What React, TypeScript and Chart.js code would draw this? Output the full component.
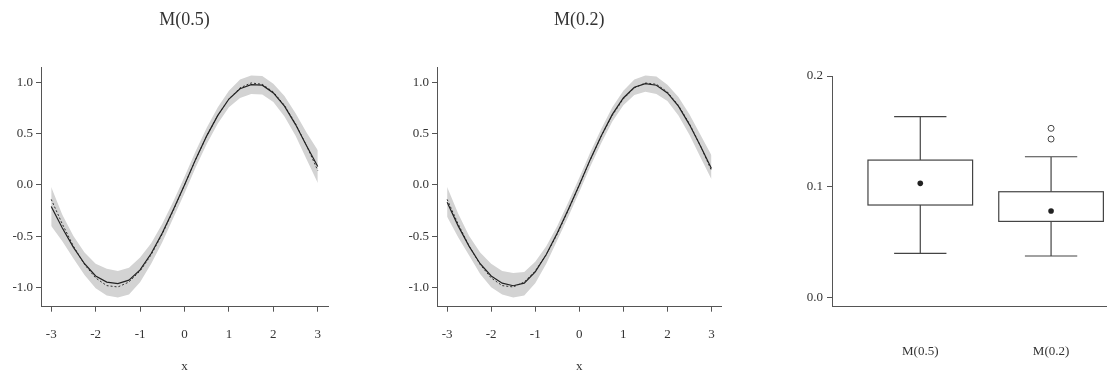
import React, { useEffect, useRef } from "react";
import { Chart, registerables } from "chart.js";

Chart.register(...registerables);

// ---------- data ----------
const xs = [-3, -2.75, -2.5, -2.25, -2, -1.75, -1.5, -1.25, -1, -0.75, -0.5, -0.25, 0, 0.25, 0.5, 0.75, 1, 1.25, 1.5, 1.75, 2, 2.25, 2.5, 2.75, 3];

// dashed reference curve (true function)
const trueCurve = [-0.141, -0.382, -0.598, -0.778, -0.909, -0.984, -0.997, -0.949, -0.841, -0.682, -0.479, -0.247, 0, 0.247, 0.479, 0.682, 0.841, 0.949, 0.997, 0.984, 0.909, 0.778, 0.598, 0.382, 0.141];

// M(0.5)
const fit05 = [-0.21, -0.42, -0.61, -0.77, -0.89, -0.95, -0.965, -0.93, -0.83, -0.67, -0.47, -0.24, 0.0, 0.25, 0.48, 0.68, 0.84, 0.94, 0.98, 0.975, 0.9, 0.77, 0.59, 0.38, 0.18];
const upper05 = [-0.02, -0.29, -0.5, -0.66, -0.77, -0.82, -0.84, -0.81, -0.71, -0.57, -0.38, -0.16, 0.08, 0.33, 0.56, 0.76, 0.92, 1.03, 1.07, 1.065, 0.99, 0.87, 0.7, 0.51, 0.34];
const lower05 = [-0.4, -0.55, -0.72, -0.88, -1.01, -1.08, -1.1, -1.07, -0.95, -0.77, -0.56, -0.32, -0.08, 0.17, 0.4, 0.6, 0.76, 0.85, 0.89, 0.885, 0.81, 0.67, 0.48, 0.25, 0.02];

// M(0.2)
const fit02 = [-0.17, -0.4, -0.6, -0.77, -0.89, -0.96, -0.985, -0.96, -0.85, -0.68, -0.47, -0.24, 0.0, 0.25, 0.48, 0.69, 0.85, 0.955, 0.99, 0.975, 0.9, 0.77, 0.59, 0.38, 0.16];
const upper02 = [-0.02, -0.28, -0.5, -0.66, -0.77, -0.84, -0.86, -0.85, -0.75, -0.6, -0.4, -0.17, 0.07, 0.32, 0.55, 0.76, 0.92, 1.03, 1.07, 1.06, 0.98, 0.86, 0.69, 0.49, 0.29];
const lower02 = [-0.31, -0.51, -0.69, -0.87, -1.0, -1.07, -1.1, -1.08, -0.96, -0.77, -0.54, -0.31, -0.07, 0.18, 0.41, 0.62, 0.78, 0.88, 0.91, 0.89, 0.82, 0.68, 0.49, 0.27, 0.055];

const xTicks = [-3, -2, -1, 0, 1, 2, 3];
const yTicks = [-1, -0.5, 0, 0.5, 1];

// box plot
const boxCategories = ["M(0.5)", "M(0.2)"];
const boxWhiskerLow = [0.0397, 0.0373];
const boxQ1 = [0.0834, 0.0686];
const boxQ3 = [0.124, 0.0954];
const boxWhiskerHigh = [0.1632, 0.127];
const boxMeans = [0.103, 0.078];
const boxOutliers = [[], [0.1527, 0.143]];
const boxYTicks = [0, 0.1, 0.2];

// ---------- styles ----------
const FONT = "'Liberation Serif', 'DejaVu Serif', serif";
const AXIS = "#555";
const TEXT = "#333";
const BOX_HALF = 0.4;
const CAP_HALF = 0.2;

function lineConfig(title: string, fit: number[], upper: number[], lower: number[], yWidth: number, padRight: number): any {
  const pts = (arr: number[]) => xs.map((x, i) => ({ x, y: arr[i] }));
  return {
    type: "line",
    data: {
      datasets: [
        { data: pts(upper), borderWidth: 0, pointRadius: 0, fill: "+1", backgroundColor: "#d3d3d3", borderColor: "rgba(0,0,0,0)", order: 3 },
        { data: pts(lower), borderWidth: 0, pointRadius: 0, fill: false, borderColor: "rgba(0,0,0,0)", order: 4 },
        { data: pts(trueCurve), borderColor: "#333", borderWidth: 1, borderDash: [2, 2], pointRadius: 0, fill: false, order: 1 },
        { data: pts(fit), borderColor: "#222", borderWidth: 1.2, pointRadius: 0, fill: false, order: 0 },
      ],
    },
    options: {
      animation: false,
      responsive: false,
      layout: { padding: { left: 0, right: padRight, top: 0, bottom: 0 } },
      plugins: {
        legend: { display: false },
        tooltip: { enabled: false },
        filler: { drawTime: "beforeDatasetsDraw" },
        title: {
          display: true,
          text: title,
          fullSize: false,
          color: TEXT,
          font: { family: FONT, size: 18, weight: "normal" },
          padding: { top: 9, bottom: 36.4 },
        },
      },
      scales: {
        x: {
          type: "linear",
          min: -3.23,
          max: 3.23,
          afterBuildTicks: (s: any) => { s.ticks = xTicks.map((v) => ({ value: v })); },
          afterFit: (s: any) => { s.height = 69.3; },
          grid: { drawOnChartArea: false, drawTicks: true, tickLength: 5, color: AXIS },
          border: { color: AXIS, width: 1 },
          ticks: { font: { family: FONT, size: 13 }, color: TEXT, padding: 15, maxRotation: 0, callback: (v: any) => String(v) },
          title: { display: true, text: "x", font: { family: FONT, size: 13 }, color: TEXT, padding: { top: 0, bottom: 2 } },
        },
        y: {
          type: "linear",
          min: -1.19,
          max: 1.153,
          afterBuildTicks: (s: any) => { s.ticks = yTicks.map((v) => ({ value: v })); },
          afterFit: (s: any) => { s.width = yWidth; },
          grid: { drawOnChartArea: false, drawTicks: true, tickLength: 5, color: AXIS },
          border: { color: AXIS, width: 1 },
          ticks: { font: { family: FONT, size: 13 }, color: TEXT, padding: 3, callback: (v: any) => Number(v).toFixed(1) },
        },
      },
    },
  };
}

const boxPlugin = {
  id: "boxDraw",
  beforeDatasetsDraw(chart: any) {
    const { ctx } = chart;
    const x = chart.scales.x;
    const y = chart.scales.y;
    ctx.save();
    ctx.strokeStyle = "#444";
    ctx.lineWidth = 1.2;
    boxCategories.forEach((_, i) => {
      const pos = i + 1;
      const cx = x.getPixelForValue(pos);
      const bl = x.getPixelForValue(pos - BOX_HALF);
      const br = x.getPixelForValue(pos + BOX_HALF);
      const cl = x.getPixelForValue(pos - CAP_HALF);
      const cr = x.getPixelForValue(pos + CAP_HALF);
      const yLo = y.getPixelForValue(boxWhiskerLow[i]);
      const yHi = y.getPixelForValue(boxWhiskerHigh[i]);
      const yQ1 = y.getPixelForValue(boxQ1[i]);
      const yQ3 = y.getPixelForValue(boxQ3[i]);
      ctx.beginPath();
      ctx.moveTo(cx, yHi); ctx.lineTo(cx, yQ3);
      ctx.moveTo(cx, yQ1); ctx.lineTo(cx, yLo);
      ctx.moveTo(cl, yHi); ctx.lineTo(cr, yHi);
      ctx.moveTo(cl, yLo); ctx.lineTo(cr, yLo);
      ctx.stroke();
      ctx.fillStyle = "#fff";
      ctx.fillRect(bl, yQ3, br - bl, yQ1 - yQ3);
      ctx.strokeRect(bl, yQ3, br - bl, yQ1 - yQ3);
    });
    ctx.restore();
  },
};

function boxConfig(): any {
  const outlierPts: { x: number; y: number }[] = [];
  boxOutliers.forEach((arr, i) => arr.forEach((v) => outlierPts.push({ x: i + 1, y: v })));
  return {
    type: "scatter",
    data: {
      datasets: [
        { data: boxMeans.map((v, i) => ({ x: i + 1, y: v })), pointRadius: 2.8, backgroundColor: "#222", borderWidth: 0 },
        { data: outlierPts, pointRadius: 3, backgroundColor: "#fff", borderColor: "#444", borderWidth: 1 },
      ],
    },
    plugins: [boxPlugin],
    options: {
      animation: false,
      responsive: false,
      layout: { padding: { left: 0, right: 0, top: 76, bottom: 0 } },
      plugins: { legend: { display: false }, tooltip: { enabled: false } },
      scales: {
        x: {
          type: "linear",
          min: 0.325,
          max: 2.42,
          afterBuildTicks: (s: any) => { s.ticks = boxCategories.map((_, i) => ({ value: i + 1 })); },
          afterFit: (s: any) => { s.height = 69.3; },
          grid: { drawOnChartArea: false, drawTicks: false, color: AXIS },
          border: { color: AXIS, width: 1 },
          ticks: { font: { family: FONT, size: 13 }, color: TEXT, padding: 37, maxRotation: 0, callback: (v: any) => boxCategories[Math.round(Number(v)) - 1] ?? "" },
        },
        y: {
          type: "linear",
          min: -0.0085,
          max: 0.2,
          afterBuildTicks: (s: any) => { s.ticks = boxYTicks.map((v) => ({ value: v })); },
          afterFit: (s: any) => { s.width = 52; },
          grid: { drawOnChartArea: false, drawTicks: true, tickLength: 5, color: AXIS },
          border: { color: AXIS, width: 1 },
          ticks: { font: { family: FONT, size: 13 }, color: TEXT, padding: 4, callback: (v: any) => Number(v).toFixed(1) },
        },
      },
    },
  };
}

function ChartCanvas({ left, width, make }: { left: number; width: number; make: () => any }) {
  const ref = useRef<HTMLCanvasElement | null>(null);
  useEffect(() => {
    if (!ref.current) return;
    const chart = new Chart(ref.current, make());
    return () => chart.destroy();
  }, []);
  return (
    <canvas
      ref={ref}
      width={width}
      height={376}
      style={{ position: "absolute", left, top: 0, width, height: 376, display: "block" }}
    />
  );
}

export default function App() {
  return (
    <div style={{ position: "fixed", left: 0, top: 0, width: 1111, height: 376, background: "#fff", overflow: "hidden" }}>
      <ChartCanvas left={0} width={340} make={() => lineConfig("M(0.5)", fit05, upper05, lower05, 41, 12)} />
      <ChartCanvas left={380} width={350} make={() => lineConfig("M(0.2)", fit02, upper02, lower02, 57, 8)} />
      <ChartCanvas left={780} width={331} make={boxConfig} />
    </div>
  );
}
